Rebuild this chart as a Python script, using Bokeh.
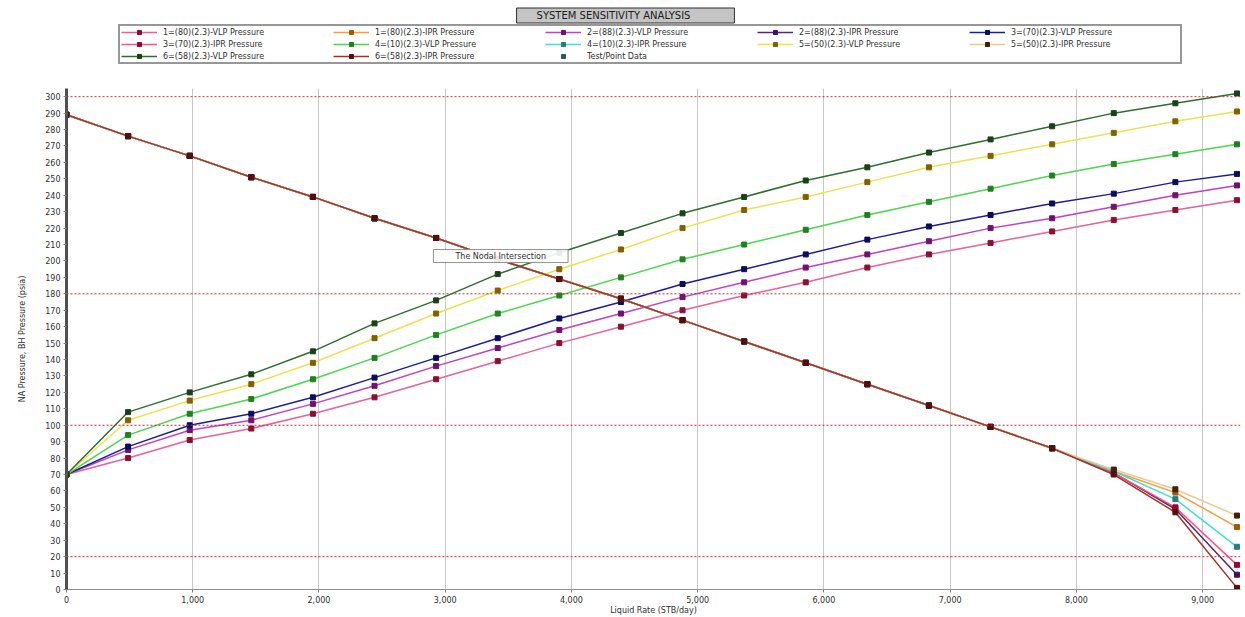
from bokeh.plotting import figure
from bokeh.layouts import column
from bokeh.models import (Legend, LegendItem, Span, Label, SingleIntervalTicker,
                          NumeralTickFormatter, ColumnDataSource)
from bokeh.embed import file_html
from bokeh.resources import INLINE

# ---------------- data ----------------
rates = [0, 488, 976, 1464, 1952, 2440, 2928, 3416, 3904, 4392,
         4880, 5368, 5856, 6344, 6832, 7320, 7808, 8296, 8784, 9272]

vlp1 = [70, 80, 91, 98, 107, 117, 128, 139, 150, 160, 170, 179, 187, 196, 204, 211, 218, 225, 231, 237]
vlp2 = [70, 85, 97, 103, 113, 124, 136, 147, 158, 168, 178, 187, 196, 204, 212, 220, 226, 233, 240, 246]
vlp3 = [70, 87, 100, 107, 117, 129, 141, 153, 165, 175, 186, 195, 204, 213, 221, 228, 235, 241, 248, 253]
vlp4 = [70, 94, 107, 116, 128, 141, 155, 168, 179, 190, 201, 210, 219, 228, 236, 244, 252, 259, 265, 271]
vlp5 = [70, 103, 115, 125, 138, 153, 168, 182, 195, 207, 220, 231, 239, 248, 257, 264, 271, 278, 285, 291]
vlp6 = [70, 108, 120, 131, 145, 162, 176, 192, 205, 217, 229, 239, 249, 257, 266, 274, 282, 290, 296, 302]

ipr1 = [289, 276, 264, 251, 239, 226, 214, 201, 189, 177, 164, 151, 138, 125, 112, 99, 86, 72, 59, 38]
ipr2 = [289, 276, 264, 251, 239, 226, 214, 201, 189, 177, 164, 151, 138, 125, 112, 99, 86, 71, 49, 9]
ipr3 = [289, 276, 264, 251, 239, 226, 214, 201, 189, 177, 164, 151, 138, 125, 112, 99, 86, 71, 50, 15]
ipr4 = [289, 276, 264, 251, 239, 226, 214, 201, 189, 177, 164, 151, 138, 125, 112, 99, 86, 72, 55, 26]
ipr5 = [289, 276, 264, 251, 239, 226, 214, 201, 189, 177, 164, 151, 138, 125, 112, 99, 86, 73, 61, 45]
ipr6 = [289, 276, 264, 251, 239, 226, 214, 201, 189, 177, 164, 151, 138, 125, 112, 99, 86, 70, 47, 1]

# no test points recorded (entry shown in legend only)
test_rate = [float("nan")]
test_pressure = [float("nan")]

ref_levels = [20, 100, 180, 300]

series = [
    ("1=(80)(2.3)-VLP Pressure", vlp1, "#e8609c", "#8a1030"),
    ("1=(80)(2.3)-IPR Pressure", ipr1, "#f0a040", "#a05a00"),
    ("2=(88)(2.3)-VLP Pressure", vlp2, "#c040c8", "#701070"),
    ("2=(88)(2.3)-IPR Pressure", ipr2, "#502a70", "#401060"),
    ("3=(70)(2.3)-VLP Pressure", vlp3, "#1c1ca0", "#0a0a60"),
    ("3=(70)(2.3)-IPR Pressure", ipr3, "#ff5080", "#a00030"),
    ("4=(10)(2.3)-VLP Pressure", vlp4, "#48d848", "#208020"),
    ("4=(10)(2.3)-IPR Pressure", ipr4, "#40e0d0", "#208080"),
    ("5=(50)(2.3)-VLP Pressure", vlp5, "#f0e050", "#806000"),
    ("5=(50)(2.3)-IPR Pressure", ipr5, "#f0c890", "#402010"),
    ("6=(58)(2.3)-VLP Pressure", vlp6, "#2e6e2e", "#1a401a"),
    ("6=(58)(2.3)-IPR Pressure", ipr6, "#a83020", "#501010"),
]

# ---------------- header (title + legend) ----------------
top = figure(width=1245, height=80, x_range=(-2, -1), y_range=(-2, -1),
             output_backend="svg", toolbar_location=None,
             x_axis_location=None, y_axis_location=None, min_border=0)
top.grid.visible = False
top.outline_line_color = None

top.add_layout(Label(x=559, y=65, x_units="screen", y_units="screen",
                     text="SYSTEM SENSITIVITY ANALYSIS", text_font="DejaVu Sans",
                     text_font_size="10px", text_color="#202020",
                     text_align="center", text_baseline="middle",
                     background_fill_color="#c4c4c4", border_line_color="#303030",
                     border_line_width=1,
                     padding=dict(left=20, right=44, top=2, bottom=2)))

# ---------------- main plot ----------------
p = figure(width=1245, height=537, x_range=(0, 9300), y_range=(0, 305),
           output_backend="svg", toolbar_location=None,
           min_border_left=66, min_border_right=5, min_border_bottom=28, min_border_top=8)

p.xaxis.axis_label = "Liquid Rate (STB/day)"
p.yaxis.axis_label = "NA Pressure, BH Pressure (psia)"
for ax in (p.xaxis, p.yaxis):
    ax.axis_label_text_font = "DejaVu Sans"
    ax.axis_label_text_font_size = "8px"
    ax.axis_label_text_font_style = "normal"
    ax.axis_label_text_color = "#303030"
    ax.major_label_text_font = "DejaVu Sans"
    ax.major_label_text_font_size = "8px"
    ax.major_label_text_color = "#303030"
    ax.minor_tick_line_color = None
    ax.major_tick_in = 0
    ax.major_tick_out = 3
    ax.major_tick_line_color = "#808080"
    ax.major_label_standoff = 2
    ax.axis_label_standoff = 0
p.yaxis.axis_label_standoff = 15
p.xaxis.ticker = SingleIntervalTicker(interval=1000)
p.xaxis.formatter = NumeralTickFormatter(format="0,0")
p.yaxis.ticker = SingleIntervalTicker(interval=10)
p.yaxis.axis_line_color = "#505050"
p.yaxis.axis_line_width = 3
p.xaxis.axis_line_color = "#909090"
p.xaxis.axis_line_width = 1
p.xgrid.grid_line_color = "#c8c8c8"
p.xgrid.grid_line_width = 1
p.ygrid.grid_line_color = None
p.outline_line_color = None

for lv in ref_levels:
    p.add_layout(Span(location=lv, dimension="width", line_color="#c03030",
                      line_dash="2 2", line_width=1))

items = []
for name, vals, lc, mc in series:
    src = ColumnDataSource(dict(x=rates, y=vals))
    p.line("x", "y", source=src, line_color=lc, line_width=1.5)
    p.scatter("x", "y", source=src, marker="square", size=5, fill_color=mc, line_color=mc)
    # same series in the header figure (outside its ranges) for the legend
    lr = top.line("x", "y", source=src, line_color=lc, line_width=1.5)
    sr = top.scatter("x", "y", source=src, marker="square", size=5, fill_color=mc, line_color=mc)
    items.append(LegendItem(label=name, renderers=[lr, sr]))

tsrc = ColumnDataSource(dict(x=test_rate, y=test_pressure))
p.scatter("x", "y", source=tsrc, marker="square", size=7,
          fill_color="#2a5a5a", line_color="#2a5a5a")
tr = top.scatter("x", "y", source=tsrc, marker="square", size=7,
                 fill_color="#2a5a5a", line_color="#2a5a5a")
items.append(LegendItem(label="Test/Point Data", renderers=[tr]))

legend = Legend(items=items, orientation="horizontal", ncols=5, location=(52, 16),
                label_text_font="DejaVu Sans", label_text_font_size="8px",
                label_text_color="#303030", label_height=10, label_width=168,
                label_standoff=6, glyph_width=36, glyph_height=10, spacing=2,
                padding=1, margin=0,
                border_line_color="#303030", border_line_width=2,
                background_fill_color="white")
top.add_layout(legend)

note_x = 3440
note_y = 203
p.add_layout(Label(x=note_x, y=note_y, text="The Nodal Intersection", text_font="DejaVu Sans",
                   text_font_size="8px", text_color="#303030", text_align="center",
                   text_baseline="middle", border_line_color="#909090",
                   background_fill_color="white", background_fill_alpha=0.9,
                   padding=dict(left=22, right=22, top=2, bottom=2)))

open("out.html", "w").write(file_html(column(top, p, spacing=0), INLINE))
